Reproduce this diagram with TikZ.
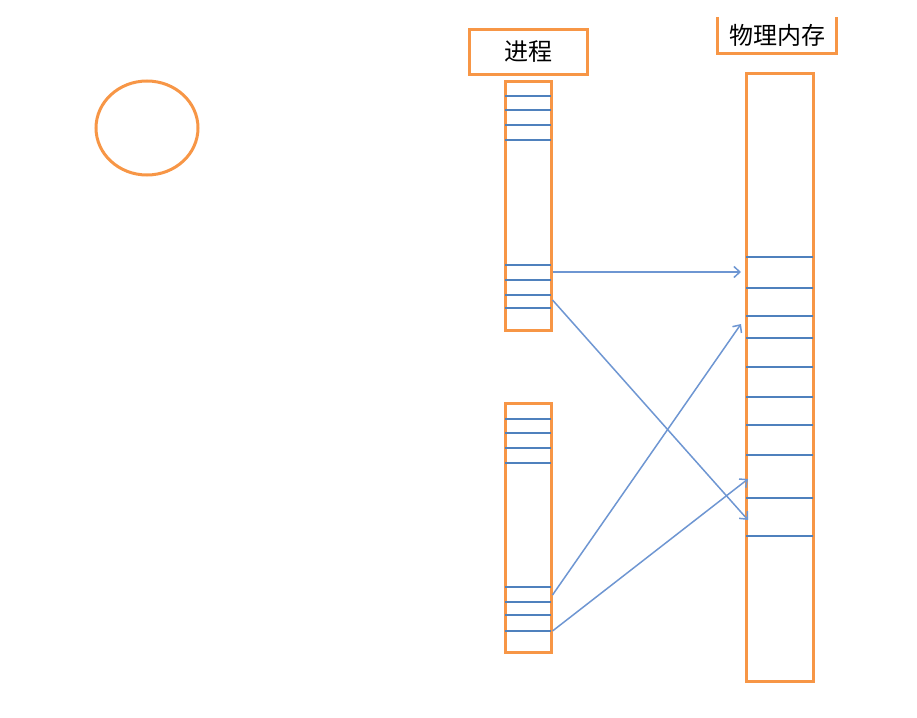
\documentclass[tikz,border=0pt]{standalone}
\usepackage{fontspec}
\newfontfamily\cjk{Noto Sans CJK SC}
\usetikzlibrary{arrows.meta,positioning}
\definecolor{boxorange}{RGB}{247,150,70}
\definecolor{rowblue}{RGB}{79,129,189}
\definecolor{linkblue}{RGB}{110,150,210}

\begin{document}
\begin{tikzpicture}[x=1pt,y=-1pt,>={Straight Barb[length=6pt,width=11pt]},
  box/.style={draw=boxorange,line width=3pt},
  col/.style={box,inner sep=0pt},
  row/.style={draw=rowblue,line width=1.5pt,shorten <=1.5pt,shorten >=1.5pt},
  link/.style={->,draw=linkblue,line width=1.5pt},
  lbl/.style={font=\cjk\fontsize{24}{28}\selectfont,inner sep=0pt}]
  \useasboundingbox (0,0) rectangle (917,717);
  % labels
  \node[box,lbl,minimum width=118pt,minimum height=44pt] (proc) at (528,52) {进程};
  \node[lbl,minimum width=118pt,minimum height=36pt] (mem) at (777,35) {物理内存};
  \draw[box] (mem.north west) -- (mem.south west) -- (mem.south east) -- (mem.north east);
  % columns
  \node[col,minimum width=46pt,minimum height=249pt] (p1) at (528,205.5) {};
  \node[col,minimum width=46pt,minimum height=249pt] (p2) at (528,527.5) {};
  \node[col,minimum width=67pt,minimum height=608pt] (pm) at (779.5,377) {};
  \draw[box] (147,128) ellipse (51pt and 47pt);
  % rows
  \foreach \y in {96,110,125,140,265,280,295,308}
    \draw[row] (p1.west |- 0,\y) -- (p1.east |- 0,\y);
  \foreach \y in {419,433,448,463,587,602,615,631}
    \draw[row] (p2.west |- 0,\y) -- (p2.east |- 0,\y);
  \foreach \y in {257,288,316,338,367,397,425,455,498,536}
    \draw[row] (pm.west |- 0,\y) -- (pm.east |- 0,\y);
  % mappings
  \coordinate (s1) at (p1.east |- 0,272);
  \coordinate (s2) at (p1.east |- 0,300);
  \coordinate (s3) at (p2.east |- 0,595);
  \coordinate (s4) at (p2.east |- 0,631);
  \coordinate (m1) at (741,272);
  \coordinate (m2) at (748,520);
  \coordinate (m3) at (741,324);
  \coordinate (m4) at (748,479);
  \draw[link] (s1) -- (m1);
  \draw[link] (s2) -- (m2);
  \draw[link] (s3) -- (m3);
  \draw[link] (s4) -- (m4);
\end{tikzpicture}
\end{document}
